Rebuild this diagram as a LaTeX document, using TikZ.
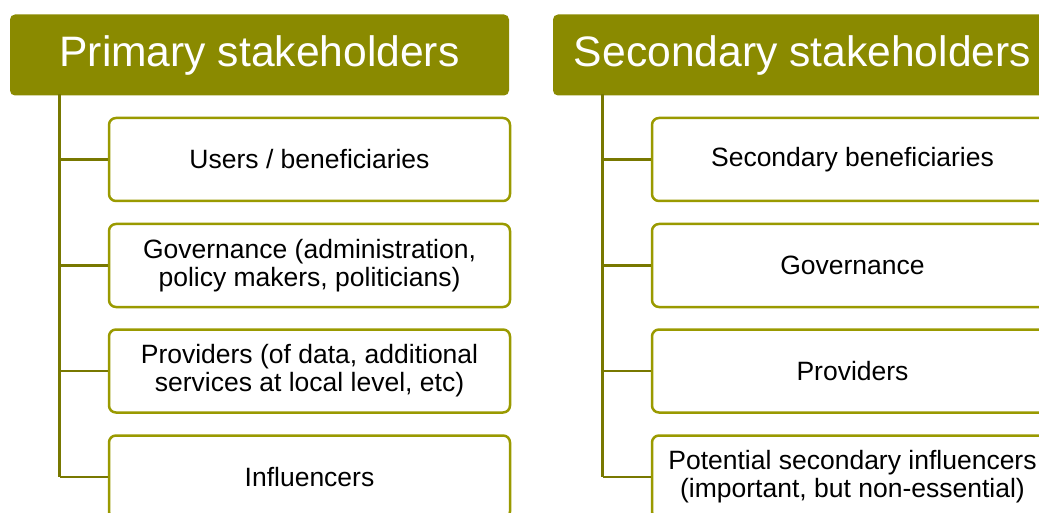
\documentclass[tikz,border=0pt]{standalone}
\usepackage{fontspec}
\setmainfont{Liberation Sans}
\definecolor{headolive}{HTML}{8A8A00}
\definecolor{lineolive}{HTML}{787800}
\definecolor{boxolive}{HTML}{9A9A00}

\begin{document}
\begin{tikzpicture}[x=1pt, y=-1pt,
    header/.style={fill=headolive, rounded corners=5pt, text=white, inner sep=0pt,
        font=\fontsize{42.6}{48}\selectfont, minimum width=499pt, minimum height=81pt},
    item/.style={draw=boxolive, line width=2.5pt, fill=white, rounded corners=7pt,
        inner sep=0pt, align=center, font=\fontsize{26.5}{28}\selectfont,
        minimum width=401pt, minimum height=83pt},
    link/.style={draw=lineolive, line width=2.8pt}]
    \def\colsep{543}

    \useasboundingbox (0,0) rectangle (1039,513);
    \clip (0,0) rectangle (1039,513);

    % primary column
    \node[header] (phead) at (259.5,55) {Primary stakeholders};
    \coordinate (ptop) at (59.5,94);
    \foreach \n/\y/\t in {1/159.5/{Users / beneficiaries},
                          2/265.5/{Governance (administration,\\policy makers, politicians)},
                          3/371/{Providers (of data, additional\\services at local level, etc)},
                          4/477/{Influencers}} {
        \node[item] (p\n) at (309.5,\y) {\t};
        \draw[link] (ptop |- p\n.west) -- (p\n.west);
    }
    \draw[link] (ptop) -- (ptop |- p4.west);

    % secondary column
    \begin{scope}[xshift=\colsep pt]
        \node[header] (shead) at (259.5,55) {Secondary stakeholders};
        \coordinate (stop) at (59.5,94);
        \foreach \n/\y/\t in {1/159.5/{Secondary beneficiaries},
                              2/265.5/{Governance},
                              3/371/{Providers},
                              4/477/{Potential secondary influencers\\(important, but non-essential)}} {
            \node[item] (s\n) at (309.5,\y) {\t};
            \draw[link] (stop |- s\n.west) -- (s\n.west);
        }
        \draw[link] (stop) -- (stop |- s4.west);
    \end{scope}
\end{tikzpicture}
\end{document}
